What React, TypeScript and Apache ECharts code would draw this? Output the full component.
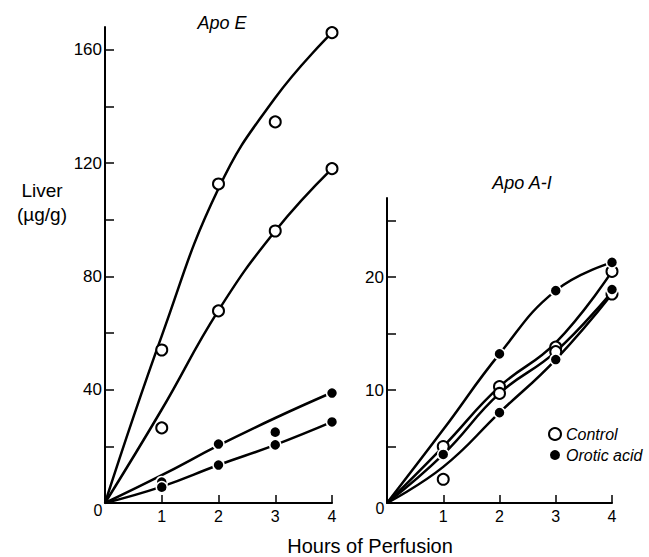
import React, { useEffect, useRef } from "react";
import * as echarts from "echarts";

// ---- Data ----
const hours = [0, 1, 2, 3, 4];

// Apo E (left panel) fitted curves
const apoECurveControlHigh = [0, 59, 111, 143, 166];
const apoECurveControlLow = [0, 33, 68, 96, 118];
const apoECurveOroticHigh = [0, 9.8, 20.3, 30, 39];
const apoECurveOroticLow = [0, 5.8, 13.4, 20.5, 28.6];

// Apo E measured points
const apoEControlPts: [number, number][] = [
  [1, 54], [2, 112.6], [3, 134.5], [4, 166],
  [1, 26.5], [2, 67.8], [3, 96], [4, 118],
];
const apoEOroticPts: [number, number][] = [
  [1, 7.4], [2, 20.8], [3, 25], [4, 38.8],
  [1, 5.6], [2, 13.4], [3, 20.5], [4, 28.6],
];

// Apo A-I (right panel) fitted curves
const apoACurve1 = [0, 6.5, 13.2, 18.8, 21.3];
const apoACurve2 = [0, 5.0, 10.3, 14.2, 20.5];
const apoACurve3 = [0, 4.3, 9.7, 13.4, 18.7];
const apoACurve4 = [0, 3.2, 8.0, 12.7, 18.5];

// Apo A-I measured points
const apoAControlPts: [number, number][] = [
  [1, 5.0], [1, 2.1], [2, 10.3], [2, 9.7], [3, 13.8], [3, 13.4], [4, 20.5], [4, 18.5],
];
const apoAOroticPts: [number, number][] = [
  [1, 4.3], [2, 13.2], [2, 8.0], [3, 18.8], [3, 12.7], [4, 21.3], [4, 18.9],
];

const xTicks = [1, 2, 3, 4];
const leftYLabels = [40, 80, 120, 160];
const leftYTicks = [20, 40, 60, 80, 100, 120, 140, 160];
const rightYLabels = [10, 20];
const rightYTicks = [5, 10, 15, 20, 25];

const FONT = "'Liberation Sans', Arial, sans-serif";

export default function App() {
  const ref = useRef<HTMLDivElement>(null);
  useEffect(() => {
    if (!ref.current) return;
    const chart = echarts.init(ref.current, undefined, { renderer: "svg" });

    const axisLine = { lineStyle: { color: "#000", width: 2 } };
    const labelStyle = { color: "#000", fontSize: 16, fontFamily: FONT };

    const makeX = (gi: number) => ({
      gridIndex: gi,
      type: "value",
      min: 0,
      max: 4,
      axisLine,
      axisTick: { inside: true, length: 8, customValues: xTicks, lineStyle: { color: "#000", width: 1.5 } },
      axisLabel: { ...labelStyle, customValues: xTicks, margin: 5 },
      splitLine: { show: false },
    });

    const makeY = (gi: number, max: number, labels: number[], ticks: number[]) => ({
      gridIndex: gi,
      type: "value",
      min: 0,
      max,
      axisLine: { show: true, ...axisLine },
      axisTick: { show: true, inside: true, length: 9, customValues: ticks, lineStyle: { color: "#000", width: 1.5 } },
      axisLabel: { ...labelStyle, fontSize: 17, customValues: labels, margin: 3 },
      splitLine: { show: false },
    });

    const curve = (name: string, vals: number[], gi: number) => ({
      name,
      type: "line",
      xAxisIndex: gi,
      yAxisIndex: gi,
      data: hours.map((h, i) => [h, vals[i]]),
      smooth: 0.45,
      showSymbol: false,
      symbol: "none",
      lineStyle: { color: "#000", width: 2.5 },
      z: 2,
      silent: true,
    });

    const openPts = (pts: [number, number][], gi: number) => ({
      name: "Control",
      type: "scatter",
      xAxisIndex: gi,
      yAxisIndex: gi,
      data: pts,
      symbol: "circle",
      symbolSize: 11,
      itemStyle: { color: "#fff", borderColor: "#000", borderWidth: 2, opacity: 1 },
      z: 5,
    });
    const filledPts = (pts: [number, number][], gi: number) => ({
      name: "Orotic acid",
      type: "scatter",
      xAxisIndex: gi,
      yAxisIndex: gi,
      data: pts,
      symbol: "circle",
      symbolSize: 11,
      itemStyle: { color: "#000", borderColor: "#fff", borderWidth: 1.5, opacity: 1 },
      z: 5,
    });

    const txt = (x: number, y: number, text: string, size: number, italic = false, align = "center") => ({
      type: "text",
      x,
      y,
      style: {
        text,
        fill: "#000",
        font: `${italic ? "italic " : ""}${size}px ${FONT}`,
        textAlign: align,
        textVerticalAlign: "middle",
      },
    });

    chart.setOption({
      animation: false,
      backgroundColor: "#fff",
      grid: [
        { left: 105, top: 27, width: 227, height: 476 },
        { left: 387, top: 198, width: 225, height: 305 },
      ],
      xAxis: [makeX(0), makeX(1)],
      yAxis: [makeY(0, 168, leftYLabels, leftYTicks), makeY(1, 27, rightYLabels, rightYTicks)],
      legend: {
        data: ["Control", "Orotic acid"],
        orient: "vertical",
        left: 543,
        top: 421,
        itemWidth: 12,
        itemHeight: 12,
        itemGap: 5,
        icon: "circle",
        textStyle: { color: "#000", fontSize: 16, fontStyle: "italic", fontFamily: FONT },
      },
      series: [
        curve("c1", apoECurveControlHigh, 0),
        curve("c2", apoECurveControlLow, 0),
        curve("c3", apoECurveOroticHigh, 0),
        curve("c4", apoECurveOroticLow, 0),
        openPts(apoEControlPts, 0),
        filledPts(apoEOroticPts, 0),
        curve("d1", apoACurve1, 1),
        curve("d2", apoACurve2, 1),
        curve("d3", apoACurve3, 1),
        curve("d4", apoACurve4, 1),
        openPts(apoAControlPts, 1),
        filledPts(apoAOroticPts, 1),
      ],
      graphic: [
        txt(222, 23, "Apo E", 18, true),
        txt(522, 183, "Apo A-I", 18, true),
        txt(42, 190, "Liver", 19),
        txt(42, 214, "(µg/g)", 19),
        txt(370, 546, "Hours of Perfusion", 20),
        txt(98, 510, "0", 16),
        txt(380, 508, "0", 16),
      ],
    });
    return () => chart.dispose();
  }, []);

  return (
    <div
      ref={ref}
      style={{ position: "fixed", left: 0, top: 0, width: 649, height: 557, background: "#fff" }}
    />
  );
}
